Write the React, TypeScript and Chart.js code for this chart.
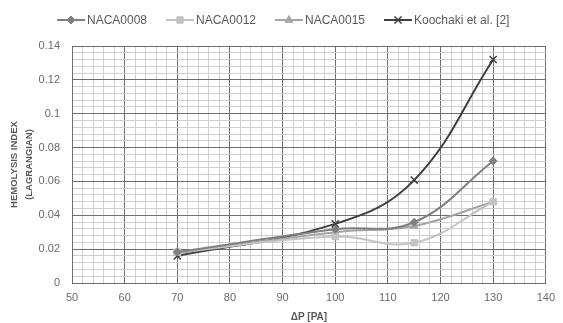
import React, { useEffect, useRef } from "react";
import { Chart, registerables } from "chart.js";
import { drawPoint } from "chart.js/helpers";

Chart.register(...registerables);

const pressureDrops = [70, 100, 115, 130];
const naca0008 = [0.0183, 0.0317, 0.0359, 0.0721];
const naca0012 = [0.0183, 0.0274, 0.0238, 0.048];
const naca0015 = [0.0176, 0.030, 0.0337, 0.048];
const koochaki = [0.016, 0.0349, 0.0608, 0.132];
const seriesNames = ["NACA0008", "NACA0012", "NACA0015", "Koochaki et al. [2]"];
const yTitleLines = ["HEMOLYSIS INDEX", "(LAGRANGIAN)"];
const xTitle = "ΔP [PA]";

const colors = ["#7f7f7f", "#c3c3c3", "#a5a5a5", "#3f3f3f"];
const pointStyles = ["rectRot", "rect", "triangle", "crossRot"];
const pointRadii = [4, 4.5, 4.5, 5];
const legendLineX = [57, 166, 275, 384];

const FONT = "'Liberation Sans', Arial, sans-serif";

const customPlugin = {
  id: "customDecor",
  afterDraw(chart: any) {
    const ctx = chart.ctx;
    const area = chart.chartArea;
    ctx.save();
    // Legend
    chart.data.datasets.forEach((ds: any, i: number) => {
      const x0 = legendLineX[i];
      const y = 20;
      ctx.strokeStyle = ds.borderColor;
      ctx.lineWidth = 2;
      ctx.beginPath();
      ctx.moveTo(x0, y);
      ctx.lineTo(x0 + 28, y);
      ctx.stroke();
      ctx.fillStyle = ds.pointBackgroundColor;
      ctx.strokeStyle = ds.pointBorderColor;
      ctx.lineWidth = ds.pointBorderWidth;
      drawPoint(ctx, { pointStyle: ds.pointStyle, radius: ds.pointRadius, rotation: 0, borderWidth: ds.pointBorderWidth }, x0 + 14, y);
      ctx.fillStyle = "#595959";
      ctx.font = `12px ${FONT}`;
      ctx.textAlign = "left";
      ctx.textBaseline = "middle";
      ctx.fillText(seriesNames[i], x0 + 30, y + 1);
    });
    // Y title
    ctx.fillStyle = "#595959";
    ctx.font = `bold 9.5px ${FONT}`;
    ctx.textAlign = "center";
    ctx.textBaseline = "middle";
    const cy = (area.top + area.bottom) / 2;
    ctx.save();
    ctx.translate(14, cy);
    ctx.rotate(-Math.PI / 2);
    ctx.fillText(yTitleLines[0], 0, 0);
    ctx.restore();
    ctx.save();
    ctx.translate(29, cy);
    ctx.rotate(-Math.PI / 2);
    ctx.fillText(yTitleLines[1], 0, 0);
    ctx.restore();
    // X title
    ctx.font = `bold 10px ${FONT}`;
    ctx.fillText(xTitle, (area.left + area.right) / 2, 317);
    ctx.restore();
  },
};

const isMajor = (v: number, step: number) => Math.abs(v / step - Math.round(v / step)) < 1e-6;

export default function App() {
  const ref = useRef<HTMLCanvasElement>(null);
  useEffect(() => {
    document.body.style.margin = "0";
    const seriesValues = [naca0008, naca0012, naca0015, koochaki];
    const chart = new Chart(ref.current!, {
      type: "line",
      data: {
        datasets: seriesValues.map((vals, i) => ({
          label: seriesNames[i],
          data: pressureDrops.map((x, j) => ({ x, y: vals[j] })),
          borderColor: colors[i],
          backgroundColor: colors[i],
          pointBackgroundColor: colors[i],
          pointBorderColor: colors[i],
          pointBorderWidth: i === 3 ? 1.5 : 1,
          pointStyle: pointStyles[i],
          pointRadius: pointRadii[i],
          borderWidth: 2,
          tension: 0.4,
          fill: false,
        })),
      },
      options: {
        responsive: false,
        animation: false,
        layout: { padding: { left: 0, right: 12, top: 46, bottom: 0 } },
        plugins: { legend: { display: false }, tooltip: { enabled: false } },
        scales: {
          x: {
            type: "linear",
            min: 50,
            max: 140,
            afterFit: (s: any) => { s.height = 40; },
            ticks: {
              stepSize: 2,
              autoSkip: false,
              maxRotation: 0,
              padding: 8,
              color: "#6a6a6a",
              font: { family: FONT, size: 11 },
              callback: (v: any) => (isMajor(Number(v), 10) ? String(v) : ""),
            },
            grid: {
              drawTicks: false,
              color: (c: any) => (isMajor(c.tick.value, 10) ? "#6e6e6e" : "#cfcfcf"),
              lineWidth: 1,
            },
            border: { display: true, color: "#6e6e6e" },
          },
          y: {
            min: 0,
            max: 0.14,
            afterFit: (s: any) => { s.width = 72; },
            ticks: {
              stepSize: 0.004,
              autoSkip: false,
              padding: 12,
              color: "#6a6a6a",
              font: { family: FONT, size: 11 },
              callback: (v: any) => (isMajor(Number(v), 0.02) ? String(Math.round(Number(v) * 100) / 100) : ""),
            },
            grid: {
              drawTicks: false,
              color: (c: any) => (isMajor(c.tick.value, 0.02) ? "#6e6e6e" : "#cfcfcf"),
              lineWidth: 1,
            },
            border: { display: true, color: "#6e6e6e" },
          },
        },
      },
      plugins: [customPlugin],
    } as any);
    return () => chart.destroy();
  }, []);
  return (
    <div style={{ width: 563, height: 323, background: "#fff" }}>
      <canvas ref={ref} width={563} height={323} />
    </div>
  );
}
